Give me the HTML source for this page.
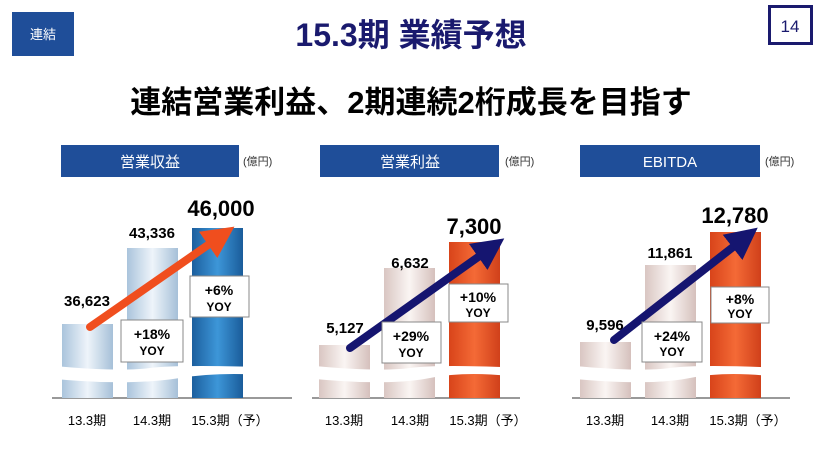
<!DOCTYPE html>
<html><head><meta charset="utf-8"><style>
body{margin:0;width:826px;height:462px;background:#fff;overflow:hidden}
text{font-family:"Liberation Sans","Noto Sans CJK JP",sans-serif}
</style></head><body>
<svg width="826" height="462" viewBox="0 0 826 462" xmlns="http://www.w3.org/2000/svg">
<defs>
<linearGradient id="lb" x1="0" x2="1"><stop offset="0" stop-color="#aac4dc"/><stop offset=".5" stop-color="#eef4fa"/><stop offset="1" stop-color="#a6c0d8"/></linearGradient>
<linearGradient id="db" x1="0" x2="1"><stop offset="0" stop-color="#1c5f9e"/><stop offset=".5" stop-color="#3d96d8"/><stop offset="1" stop-color="#1a5c9a"/></linearGradient>
<linearGradient id="lp" x1="0" x2="1"><stop offset="0" stop-color="#d9c6c2"/><stop offset=".5" stop-color="#faf5f3"/><stop offset="1" stop-color="#d5c0bc"/></linearGradient>
<linearGradient id="or" x1="0" x2="1"><stop offset="0" stop-color="#d8441a"/><stop offset=".5" stop-color="#f46a36"/><stop offset="1" stop-color="#d0401a"/></linearGradient>
<marker id="ah" markerWidth="4" markerHeight="4" refX="1.5" refY="2" orient="auto" markerUnits="strokeWidth"><path d="M0,0 L4,2 L0,4z" fill="context-stroke"/></marker>
</defs>
<rect x="12" y="12" width="62" height="44" fill="#1f4e99"/>
<text x="43" y="39" fill="#fff" font-size="13" text-anchor="middle">連結</text>
<text x="411" y="46" fill="#1a1a6e" font-size="32" font-weight="bold" text-anchor="middle">15.3期  業績予想</text>
<rect x="769.5" y="6.5" width="42" height="37" fill="none" stroke="#1a1a6e" stroke-width="3"/>
<text x="790" y="32" fill="#1a1a6e" font-size="17" text-anchor="middle">14</text>
<text x="411" y="113" fill="#000" font-size="31" font-weight="bold" text-anchor="middle">連結営業利益、2期連続2桁成長を目指す</text>

<g id="p1">
<rect x="61" y="145" width="178" height="32" fill="#1f4e99"/>
<text x="150" y="167" fill="#fff" font-size="15" text-anchor="middle">営業収益</text>
<text x="243" y="165" font-size="11" fill="#333">(億円)</text>
<line x1="52" y1="398" x2="292" y2="398" stroke="#999" stroke-width="2"/>
<rect x="62" y="324" width="51" height="74" fill="url(#lb)"/>
<rect x="127" y="248" width="51" height="150" fill="url(#lb)"/>
<rect x="192" y="228" width="51" height="170" fill="url(#db)"/>
<path d="M55,366 Q120,372 150,368 T295,368 L295,378 Q230,370 180,378 T55,379z" fill="#fff"/>
<text x="87" y="306" font-size="15" font-weight="bold" text-anchor="middle">36,623</text>
<text x="152" y="238" font-size="15" font-weight="bold" text-anchor="middle">43,336</text>
<text x="221" y="216" font-size="22" font-weight="bold" text-anchor="middle">46,000</text>
<line x1="90" y1="327" x2="218" y2="238" stroke="#f04e1e" stroke-width="8" stroke-linecap="round" marker-end="url(#ah)"/>
<rect x="121" y="320" width="62" height="42" fill="#fff" stroke="#888"/>
<text x="152" y="339" font-size="14" font-weight="bold" text-anchor="middle">+18%</text>
<text x="152" y="355" font-size="12" font-weight="bold" text-anchor="middle">YOY</text>
<rect x="190" y="276" width="59" height="41" fill="#fff" stroke="#888"/>
<text x="219" y="295" font-size="14" font-weight="bold" text-anchor="middle">+6%</text>
<text x="219" y="311" font-size="12" font-weight="bold" text-anchor="middle">YOY</text>
<text x="87" y="425" font-size="13" text-anchor="middle">13.3期</text>
<text x="152" y="425" font-size="13" text-anchor="middle">14.3期</text>
<text x="230" y="425" font-size="13" text-anchor="middle">15.3期（予）</text>
</g>

<g>
<rect x="320" y="145" width="179" height="32" fill="#1f4e99"/>
<text x="410" y="167" fill="#fff" font-size="15" text-anchor="middle">営業利益</text>
<text x="505" y="165" font-size="11" fill="#333">(億円)</text>
<line x1="312" y1="398" x2="520" y2="398" stroke="#999" stroke-width="2"/>
<rect x="319" y="345" width="51" height="53" fill="url(#lp)"/>
<rect x="384" y="268" width="51" height="130" fill="url(#lp)"/>
<rect x="449" y="242" width="51" height="156" fill="url(#or)"/>
<path d="M315,366 Q380,372 410,368 T525,368 L525,378 Q470,370 430,378 T315,379z" fill="#fff"/>
<text x="345" y="333" font-size="15" font-weight="bold" text-anchor="middle">5,127</text>
<text x="410" y="268" font-size="15" font-weight="bold" text-anchor="middle">6,632</text>
<text x="474" y="234" font-size="22" font-weight="bold" text-anchor="middle">7,300</text>
<line x1="350" y1="348" x2="488" y2="250" stroke="#151570" stroke-width="8" stroke-linecap="round" marker-end="url(#ah)"/>
<rect x="382" y="322" width="59" height="41" fill="#fff" stroke="#888"/>
<text x="411" y="341" font-size="14" font-weight="bold" text-anchor="middle">+29%</text>
<text x="411" y="357" font-size="12" font-weight="bold" text-anchor="middle">YOY</text>
<rect x="449" y="284" width="59" height="38" fill="#fff" stroke="#888"/>
<text x="478" y="302" font-size="14" font-weight="bold" text-anchor="middle">+10%</text>
<text x="478" y="317" font-size="12" font-weight="bold" text-anchor="middle">YOY</text>
<text x="344" y="425" font-size="13" text-anchor="middle">13.3期</text>
<text x="410" y="425" font-size="13" text-anchor="middle">14.3期</text>
<text x="488" y="425" font-size="13" text-anchor="middle">15.3期（予）</text>
</g>

<g>
<rect x="580" y="145" width="180" height="32" fill="#1f4e99"/>
<text x="670" y="167" fill="#fff" font-size="15" text-anchor="middle">EBITDA</text>
<text x="765" y="165" font-size="11" fill="#333">(億円)</text>
<line x1="572" y1="398" x2="790" y2="398" stroke="#999" stroke-width="2"/>
<rect x="580" y="342" width="51" height="56" fill="url(#lp)"/>
<rect x="645" y="265" width="51" height="133" fill="url(#lp)"/>
<rect x="710" y="232" width="51" height="166" fill="url(#or)"/>
<path d="M575,366 Q640,372 670,368 T785,368 L785,378 Q730,370 690,378 T575,379z" fill="#fff"/>
<text x="605" y="330" font-size="15" font-weight="bold" text-anchor="middle">9,596</text>
<text x="670" y="258" font-size="15" font-weight="bold" text-anchor="middle">11,861</text>
<text x="735" y="223" font-size="22" font-weight="bold" text-anchor="middle">12,780</text>
<line x1="614" y1="340" x2="742" y2="240" stroke="#151570" stroke-width="8" stroke-linecap="round" marker-end="url(#ah)"/>
<rect x="642" y="322" width="60" height="40" fill="#fff" stroke="#888"/>
<text x="672" y="341" font-size="14" font-weight="bold" text-anchor="middle">+24%</text>
<text x="672" y="356" font-size="12" font-weight="bold" text-anchor="middle">YOY</text>
<rect x="711" y="287" width="58" height="36" fill="#fff" stroke="#888"/>
<text x="740" y="304" font-size="14" font-weight="bold" text-anchor="middle">+8%</text>
<text x="740" y="318" font-size="12" font-weight="bold" text-anchor="middle">YOY</text>
<text x="605" y="425" font-size="13" text-anchor="middle">13.3期</text>
<text x="670" y="425" font-size="13" text-anchor="middle">14.3期</text>
<text x="748" y="425" font-size="13" text-anchor="middle">15.3期（予）</text>
</g>
</svg>
</body></html>
